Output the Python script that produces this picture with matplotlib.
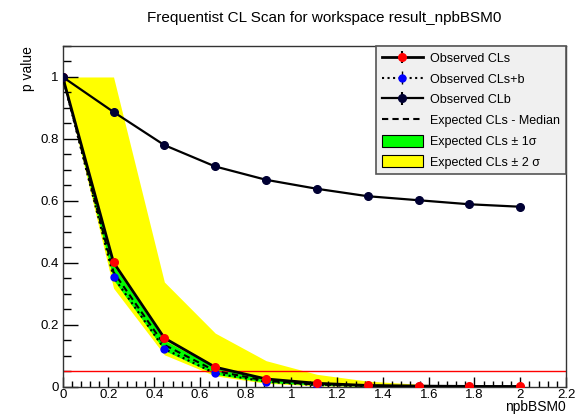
import matplotlib
matplotlib.use("Agg")
import matplotlib.pyplot as plt
from matplotlib.ticker import MultipleLocator, FuncFormatter
from matplotlib.patches import Patch
import numpy as np

plt.rcParams['font.family'] = ['Liberation Sans', 'DejaVu Sans']

# ---- data ----
x = [0.0, 0.2222, 0.4444, 0.6667, 0.8889, 1.1111, 1.3333, 1.5556, 1.7778, 2.0]
cls_obs = [1.0, 0.401, 0.157, 0.063, 0.025, 0.011, 0.004, 0.002, 0.001, 0.0008]
clsb_obs = [1.0, 0.354, 0.122, 0.043, 0.016, 0.005, 0.002, 0.001, 0.0005, 0.0003]
clb_obs = [1.0, 0.887, 0.780, 0.711, 0.668, 0.639, 0.615, 0.602, 0.589, 0.581]
exp_median = [1.0, 0.370, 0.135, 0.051, 0.019, 0.007, 0.003, 0.0012, 0.0005, 0.0002]
exp_1s_lo = [1.0, 0.345, 0.117, 0.040, 0.014, 0.005, 0.0018, 0.0007, 0.0003, 0.0001]
exp_1s_hi = [1.0, 0.392, 0.150, 0.062, 0.024, 0.009, 0.004, 0.0016, 0.0007, 0.0003]
exp_2s_lo = [1.0, 0.318, 0.103, 0.035, 0.011, 0.003, 0.001, 0.0004, 0.0001, 0.0]
exp_2s_hi = [1.0, 1.0, 0.338, 0.173, 0.084, 0.040, 0.018, 0.008, 0.004, 0.002]
cl_line = 0.05

title = "Frequentist CL Scan for workspace result_npbBSM0"
xlabel = "npbBSM0"
ylabel = "p value"
legend_labels = ['Observed CLs', 'Observed CLs+b', 'Observed CLb',
                 'Expected CLs - Median', 'Expected CLs \u00b1 1\u03c3',
                 'Expected CLs \u00b1 2 \u03c3']

W, H = 587, 417
fig = plt.figure(figsize=(W / 100, H / 100), dpi=100)
ax = fig.add_axes([62.7 / W, 1 - 386.7 / H, (566 - 62.7) / W, (386.7 - 46) / H])

ax.fill_between(x, exp_2s_lo, exp_2s_hi, color='#ffff00', lw=0, zorder=1)
ax.fill_between(x, exp_1s_lo, exp_1s_hi, color='#00ff00', lw=0, zorder=2)
ax.axhline(cl_line, color='#ff0000', lw=1, zorder=2.5)

h_med, = ax.plot(x, exp_median, color='black', ls=(0, (3, 2)), lw=1.5, zorder=3)
h_sb = ax.errorbar(x, clsb_obs, yerr=np.zeros(len(x)), color='black', ls=':', lw=1.5,
                   marker='o', ms=5, mfc='#0000ff', mec='#0000ff', zorder=4,
                   elinewidth=1)
h_cls = ax.errorbar(x, cls_obs, yerr=np.zeros(len(x)), color='black', ls='-', lw=2,
                    marker='o', ms=5.5, mfc='#ff0000', mec='#ff0000', zorder=5,
                    elinewidth=1.5)
h_clb = ax.errorbar(x, clb_obs, yerr=np.zeros(len(x)), color='black', ls='-', lw=1.6,
                    marker='o', ms=5.5, mfc='#000033', mec='#000033', zorder=5,
                    elinewidth=1.5)

p1 = Patch(facecolor='#00ff00', edgecolor='black', lw=0.8)
p2 = Patch(facecolor='#ffff00', edgecolor='black', lw=0.8)

ax.set_xlim(0, 2.2)
ax.set_ylim(0, 1.1)

ax.xaxis.set_major_locator(MultipleLocator(0.2))
ax.xaxis.set_minor_locator(MultipleLocator(0.04))
ax.yaxis.set_major_locator(MultipleLocator(0.2))
ax.yaxis.set_minor_locator(MultipleLocator(0.05))

fmt = FuncFormatter(lambda v, p: ('%g' % round(v, 2)))
ax.xaxis.set_major_formatter(fmt)
ax.yaxis.set_major_formatter(fmt)

ax.tick_params(axis='both', which='both', direction='in', top=False, right=False,
               labelsize=9.5, colors='black')
ax.tick_params(axis='y', which='major', length=11, width=1, pad=3)
ax.tick_params(axis='y', which='minor', length=6, width=1)
ax.tick_params(axis='x', which='major', length=7.5, width=1, pad=2)
ax.tick_params(axis='x', which='minor', length=4, width=1)

for s in ax.spines.values():
    s.set_color('#333333')
    s.set_linewidth(1)

leg = ax.legend([h_cls, h_sb, h_clb, h_med, p1, p2], legend_labels,
                loc='upper right', bbox_to_anchor=(1.0, 1.0), fontsize=9,
                frameon=True, fancybox=False, borderaxespad=0,
                handlelength=3.3, handleheight=1.1, labelspacing=0.6,
                borderpad=0.45, handletextpad=0.6)
fr = leg.get_frame()
fr.set_facecolor('#f0f0f0')
fr.set_edgecolor('#555555')
fr.set_linewidth(1.2)
fr.set_alpha(1)
leg.set_zorder(10)

fig.text(324 / W, 1 - 18 / H, title, ha='center', va='center', fontsize=11)
fig.text(28 / W, 1 - 46 / H, ylabel, ha='center', va='top', rotation=90, fontsize=10)
fig.text(566 / W, 1 - 414 / H, xlabel, ha='right', va='bottom', fontsize=10)

fig.savefig('out.png', dpi=100, facecolor='white')
